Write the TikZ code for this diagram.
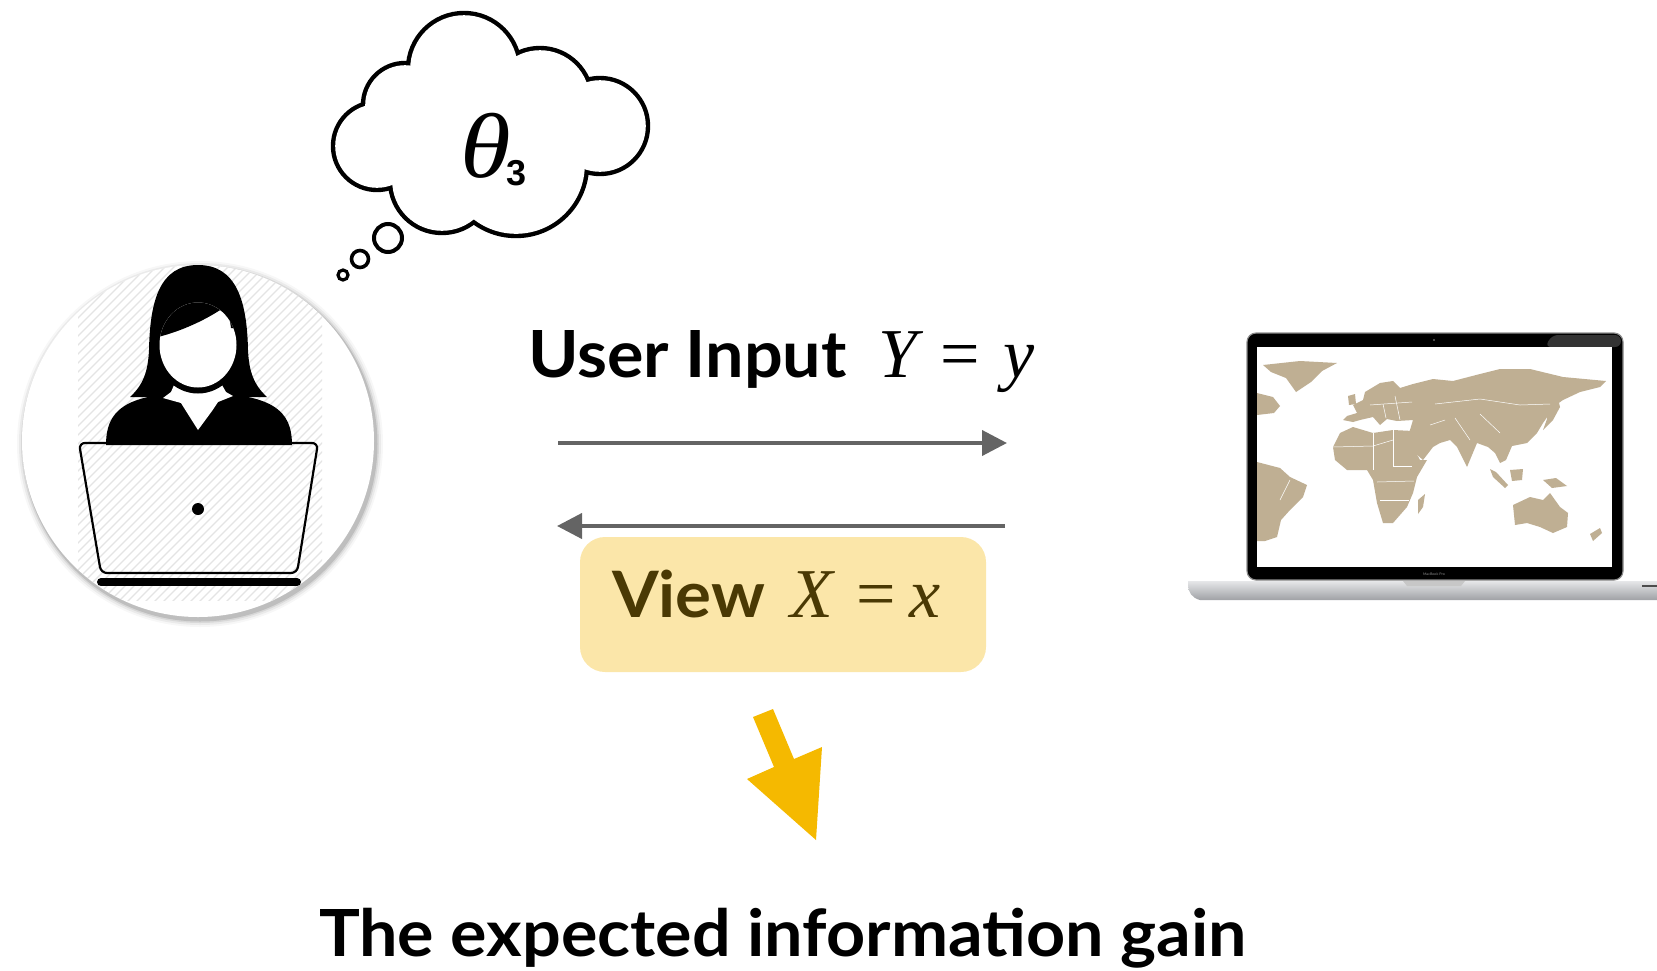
\documentclass[tikz,border=0pt]{standalone}
\usepackage{fontspec}
\setmainfont{Lato}[FakeStretch=1.05]
\newfontfamily\mathserif{Liberation Serif}
\newfontfamily\subsans{Liberation Sans}
\usetikzlibrary{arrows.meta}
\definecolor{arrowgray}{HTML}{646464}
\definecolor{viewfill}{HTML}{FBE6A9}
\definecolor{viewtext}{HTML}{4A3904}
\definecolor{amber}{HTML}{F5B900}
\definecolor{land}{HTML}{BFAF93}
\definecolor{hatchgray}{HTML}{E4E4E4}
\definecolor{silverhi}{HTML}{E6E7E9}
\definecolor{silverlo}{HTML}{9FA1A5}

\begin{document}
\begin{tikzpicture}[x=1pt,y=-1pt,
  flowarrow/.style={draw=arrowgray, line width=4pt, -{Triangle[length=25pt,width=25pt]}},
  wordlabel/.style={font=\fontsize{64}{70}\selectfont\bfseries, inner sep=0pt, anchor=base west},
  mathlabel/.style={font=\mathserif\fontsize{70}{76}\selectfont\itshape, inner sep=0pt, anchor=base west},
  viewbox/.style={fill=viewfill, rounded corners=25pt, minimum width=406pt, minimum height=135pt, inner sep=0pt},
  landmass/.style={fill=land},
  border/.style={draw=white, line width=0.5pt}]
\useasboundingbox (0,0) rectangle (1657,970);

% ---------- user avatar ----------
\foreach \d/\o in {7/0.03,5/0.05,3/0.08,1.5/0.12}
  \fill[black, opacity=\o] (200,444) circle (176+\d);
\fill[white] (198,441) circle (176);
\begin{scope}
  \clip (198,441) circle (176);
  \clip (78,262) rectangle (322,600);
  \foreach \k in {-45,...,45}
    \draw[hatchgray, line width=1.3pt] (198+\k*9-200,641) -- ++(400,-400);
\end{scope}
% hair
\fill[black] (130,397) .. controls (143,385) and (148,372) .. (149,350)
  .. controls (150,300) and (160,265) .. (198,265)
  .. controls (236,265) and (247,300) .. (248,350)
  .. controls (249,372) and (254,385) .. (267,397) -- cycle;
% shoulders
\fill[black] (106,445) .. controls (106,420) and (116,404) .. (148,397) -- (248,397)
  .. controls (282,404) and (292,420) .. (292,445) -- cycle;
% collar
\fill[white] (174,385) -- (222,385) -- (226,392) -- (233,396) -- (218,402) -- (212,411)
  -- (198,430) -- (186,411) -- (181,403) -- (163,398) -- (171,392) -- cycle;
% face with its dark chin line
\fill[black] (198,345) ellipse [x radius=44, y radius=48.5];
\fill[white] (198,345) ellipse [x radius=38.5, y radius=42.5];
% fringe
\begin{scope}
  \clip (198,345) ellipse [x radius=38.5, y radius=42.5];
  \fill[black] (150,250) -- (150,338) -- (158,337) .. controls (182,331) and (208,319) .. (226,306)
    .. controls (228,313) and (230,320) .. (231,328) -- (260,332) -- (260,250) -- cycle;
\end{scope}
% laptop in front of the user
\draw[line width=2.2pt, rounded corners=6pt] (79,443) -- (318,443) -- (297,573) -- (101,573) -- cycle;
\fill[black] (198,509) circle (6);
\draw[line width=8pt, line cap=round] (101,582) -- (297,582);

% ---------- thought cloud ----------
\foreach \cx/\cy/\r in {464/69/56, 405/105/42, 377/146/44, 442/181/52, 516/165/71, 600/126/48, 540/100/52}
  \fill[black] (\cx,\cy) circle (\r+2.2);
\foreach \cx/\cy/\r in {464/69/56, 405/105/42, 377/146/44, 442/181/52, 516/165/71, 600/126/48, 540/100/52}
  \fill[white] (\cx,\cy) circle (\r-2.2);
\fill[white] (470,130) circle (50);
\draw[line width=4pt] (388,238) circle (14);
\draw[line width=3.6pt] (360,259) circle (8.5);
\draw[line width=3.2pt] (343,275) circle (5);
\node[font=\mathserif\itshape\fontsize{92}{92}\selectfont, inner sep=0pt, anchor=base west] (theta) at (460,177)
  {\scalebox{1.12}[1]{θ}\kern-4pt\raisebox{-8pt}{\subsans\upshape\bfseries\fontsize{36}{36}\selectfont 3}};

% ---------- messages ----------
\node[wordlabel, font=\fontsize{65}{70}\selectfont\bfseries] (inputword) at (528,377) {User Input};
\node[mathlabel] (inputmath) at (878,377) {Y\,\,{\upshape=}\,\,y};
\coordinate (inA) at (558,443);
\coordinate (inB) at (1007,443);
\coordinate (outA) at (1005,526);
\coordinate (outB) at (557,526);
\draw[flowarrow] (inA) -- (inB);
\draw[flowarrow] (outA) -- (outB);

\node[viewbox] (view) at (783,604.5) {};
\node[wordlabel, text=viewtext] (viewword) at (612,617) {View};
\node[mathlabel, text=viewtext] (viewmath) at (790,617) {X\,\,{\upshape=}\hspace{14pt}x};

% block arrow to the conclusion
\fill[amber] (753,717) -- (773,709) -- (794,759) -- (822,747) -- (816,840) -- (747,779) -- (774,767) -- cycle;
\node[font=\fontsize{65}{72}\selectfont\bfseries, inner sep=0pt, anchor=base] (gain) at (783,956) {The expected information gain};

% ---------- notebook computer showing a world map ----------
\path[top color=silverhi, bottom color=silverlo] (1188,581) -- (1657,581) -- (1657,600) -- (1200,600)
  .. controls (1192,598) and (1188,592) .. (1188,585) -- cycle;
\fill[white!78!black] (1403,581) -- (1465,581) -- (1461,586) -- (1407,586) -- cycle;
\draw[black!70, line width=2pt] (1642,586) -- (1657,586);
\filldraw[fill=black, draw=black!45, line width=1.2pt, rounded corners=9pt] (1247,333) rectangle (1623,580);
\fill[black!80, rounded corners=6pt] (1552,335) -- (1621,335) -- (1621,347) -- (1545,347) -- cycle;
\fill[black!60] (1434,340) circle (1.2);
\fill[white] (1257,347) rectangle (1612,567);
\node[font=\fontsize{3.5}{4}\selectfont, text=black!45, inner sep=0pt] (brand) at (1434,574) {MacBook Pro};

\begin{scope}
\clip (1257,347) rectangle (1612,567);
% Greenland and North America
\fill[landmass] (1263,365) -- (1300,361) -- (1337,363) -- (1322,371) -- (1311,382) -- (1296,392) -- (1286,378) -- (1271,372) -- cycle;
\fill[landmass] (1257,393) -- (1273,397) -- (1280,406) -- (1274,413) -- (1257,415) -- cycle;
% South America
\fill[landmass] (1257,462) -- (1280,468) -- (1290,477) -- (1307,485) -- (1303,497) -- (1290,510)
  -- (1281,520) -- (1277,537) -- (1265,541) -- (1257,541) -- cycle;
% Eurasia
\fill[landmass] (1343,420) -- (1347,416) -- (1357,413) -- (1353,405) -- (1363,400) -- (1365,392)
  -- (1380,383) -- (1393,381) -- (1400,388) -- (1413,384) -- (1433,379) -- (1453,381)
  -- (1480,374) -- (1500,369) -- (1530,369) -- (1563,377) -- (1606,381) -- (1600,387)
  -- (1580,392) -- (1563,400) -- (1553,407) -- (1550,413) -- (1543,423) -- (1537,433)
  -- (1527,443) -- (1512,446) -- (1506,460) -- (1500,463) -- (1495,453) -- (1488,447)
  -- (1477,443) -- (1467,467) -- (1457,447) -- (1450,440) -- (1440,443) -- (1433,447)
  -- (1423,460) -- (1415,453) -- (1407,437) -- (1410,430) -- (1413,420) -- (1397,421)
  -- (1387,419) -- (1380,425) -- (1373,417) -- (1360,420) -- (1353,422) -- cycle;
\fill[landmass] (1348,396) -- (1355,394) -- (1356,404) -- (1349,405) -- cycle;
% Africa and Madagascar
\fill[landmass] (1413,431) -- (1393,430) -- (1373,433) -- (1353,427) -- (1340,433) -- (1333,447)
  -- (1335,460) -- (1347,470) -- (1367,470) -- (1373,480) -- (1377,503) -- (1383,523)
  -- (1393,523) -- (1407,507) -- (1413,493) -- (1417,477) -- (1427,460) -- (1420,460)
  -- (1413,447) -- (1410,437) -- cycle;
\fill[landmass] (1418,500) -- (1425,494) -- (1423,507) -- (1418,514) -- cycle;
% Japan, islands, Australia and New Zealand
\fill[landmass] (1547,400) -- (1557,395) -- (1560,407) -- (1553,420) -- (1543,430) -- (1547,419) -- cycle;
\fill[landmass] (1490,469) -- (1496,472) -- (1508,485) -- (1505,488) -- (1493,477) -- cycle;
\fill[landmass] (1510,470) -- (1523,469) -- (1522,480) -- (1512,481) -- cycle;
\fill[landmass] (1543,480) -- (1556,478) -- (1567,486) -- (1552,488) -- cycle;
\fill[landmass] (1513,505) -- (1530,497) -- (1543,500) -- (1550,493) -- (1560,507) -- (1568,513)
  -- (1567,527) -- (1553,533) -- (1540,527) -- (1527,523) -- (1515,525) -- cycle;
\fill[landmass] (1590,534) -- (1600,528) -- (1602,533) -- (1593,541) -- cycle;
% borders
\draw[border] (1333,447) -- (1373,446) -- (1393,440);
\draw[border] (1373,433) -- (1373,470);
\draw[border] (1393,430) -- (1393,466) -- (1412,466);
\draw[border] (1377,482) -- (1414,481);
\draw[border] (1380,500) -- (1409,500);
\draw[border] (1383,404) -- (1386,418);
\draw[border] (1395,396) -- (1400,420);
\draw[border] (1370,405) -- (1412,402);
\draw[border] (1435,404) -- (1480,399) -- (1520,405) -- (1550,404);
\draw[border] (1455,418) -- (1470,440);
\draw[border] (1480,414) -- (1500,433);
\draw[border] (1430,425) -- (1445,420);
\draw[border] (1290,480) -- (1280,500);
\end{scope}
\end{tikzpicture}
\end{document}
